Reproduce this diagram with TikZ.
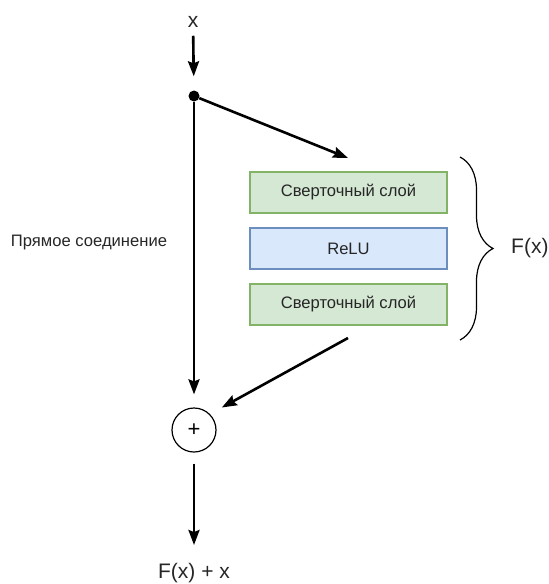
\documentclass[tikz,border=0pt]{standalone}
\usepackage{fontspec}
\setmainfont{Liberation Sans}
\usepackage{tikz}
\usetikzlibrary{arrows.meta,decorations.pathreplacing}
\definecolor{ink}{HTML}{262626}
\definecolor{convfill}{HTML}{D5E8D4}
\definecolor{convdraw}{HTML}{82B366}
\definecolor{relufill}{HTML}{DAE8FC}
\definecolor{reludraw}{HTML}{6C8EBF}
\tikzstyle{layer}=[rectangle, draw, line width=1.1pt, minimum width=197pt, minimum height=41pt, text=ink, font=\fontsize{16.6}{18}\selectfont]
\tikzstyle{conv}=[layer, fill=convfill, draw=convdraw]
\tikzstyle{relu}=[layer, fill=relufill, draw=reludraw]
\tikzstyle{flow}=[line width=2.6pt, -{Stealth[length=15pt,width=11pt,inset=2pt]}]
\tikzstyle{lbl}=[inner sep=0pt, text=ink]
\newcommand{\layer}{\node[layer]}

\begin{document}
\begin{tikzpicture}[x=1pt,y=-1pt]
	\useasboundingbox (0,0) rectangle (549,584);
	\node[lbl, font=\fontsize{21}{23}\selectfont](x) at (193,22) {x};
	\node[circle, fill=black, inner sep=0pt, minimum size=11pt](split) at (194,96) {};
	\coordinate (in) at (348,158);
	\layer[conv](conv1) at (348.5,192.5) {Сверточный слой};
	\layer[relu](relu) at (348.5,248.5) {ReLU};
	\layer[conv](conv2) at (348.5,304.5) {Сверточный слой};
	\coordinate (out) at (348,338);
	\coordinate (top) at (460,157);
	\coordinate (bot) at (460,340);
	\node[lbl, font=\fontsize{21}{23}\selectfont, anchor=west](fx) at (511,248) {F(x)};
	\node[lbl, font=\fontsize{16.6}{18}\selectfont](skip) at (89,243) {Прямое соединение};
	\node[circle, draw, line width=1.2pt, minimum size=44pt, inner sep=0pt, font=\fontsize{22}{24}\selectfont](sum) at (194,430) {+};
	\node[lbl, font=\fontsize{21}{23}\selectfont](res) at (194,573) {F(x) + x};
	\draw[flow, shorten <=8pt, shorten >=14pt] (x) -- (split);
	\draw[flow] (split) -- (in);
	\draw[flow, shorten >=13pt] (split) -- (sum);
	\draw[flow, shorten >=13.5pt] (out) -- (sum.north east);
	\draw[flow, shorten <=11pt, shorten >=18pt] (sum) -- (res);
	\draw[line width=1.2pt, decorate, decoration={brace, amplitude=33pt}] (top) -- (bot);
\end{tikzpicture}
\end{document}
